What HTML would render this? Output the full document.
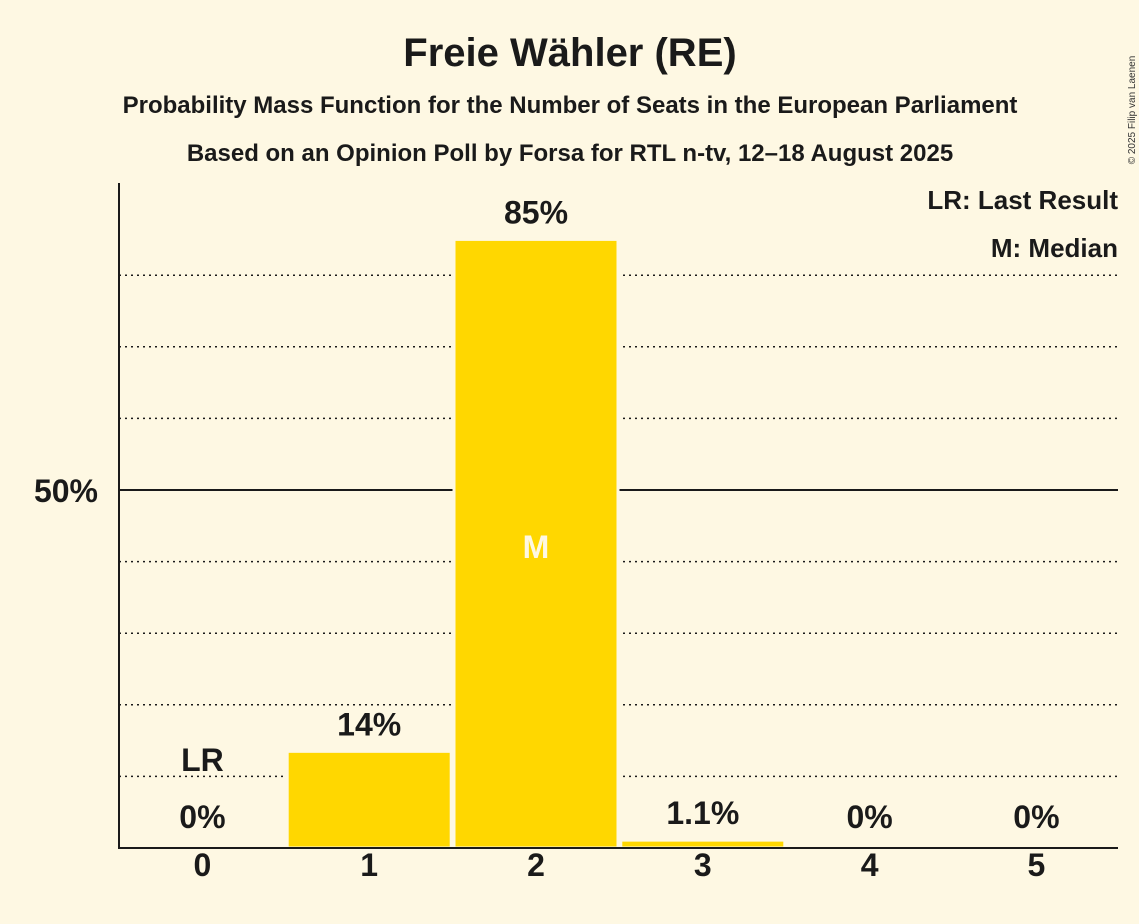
<!DOCTYPE html>
<html><head><meta charset="utf-8"><style>
body{margin:0;background:#fef8e3;}
svg{display:block;font-family:"Liberation Sans",sans-serif;font-weight:bold;}
</style></head><body>
<svg id="chart" width="1139" height="924" viewBox="0 0 1139 924">
<rect x="0" y="0" width="1139" height="924" fill="#fef8e3"/>
<text x="570" y="66" text-anchor="middle" font-size="40" fill="#1a1a1a">Freie Wähler (RE)</text>
<text x="570" y="113" text-anchor="middle" font-size="24" fill="#1a1a1a">Probability Mass Function for the Number of Seats in the European Parliament</text>
<text x="570" y="161" text-anchor="middle" font-size="24" fill="#1a1a1a">Based on an Opinion Poll by Forsa for RTL n-tv, 12–18 August 2025</text>
<text x="1135" y="110" font-size="10" font-weight="normal" fill="#333" transform="rotate(-90 1135 110)" text-anchor="middle">© 2025 Filip van Laenen</text>
<text x="1118" y="209" text-anchor="end" font-size="26" fill="#1a1a1a">LR: Last Result</text>
<text x="1118" y="257" text-anchor="end" font-size="26" fill="#1a1a1a">M: Median</text>
<g id="grid"></g>
<g id="bars"></g>
<g id="labels"></g>
<line x1="119" y1="183" x2="119" y2="849" stroke="#1a1a1a" stroke-width="2"/>
<line x1="118" y1="848" x2="1118" y2="848" stroke="#1a1a1a" stroke-width="2"/>
</svg>
<script>
const seats = [0, 1, 2, 3, 4, 5];
const probs = [0, 13.5, 85, 1.1, 0, 0];
const valueLabels = ["0%", "14%", "85%", "1.1%", "0%", "0%"];
const gridTicks = [10, 20, 30, 40, 50, 60, 70, 80];
const lastResult = 0;
const median = 2;

const NS = "http://www.w3.org/2000/svg";
const x0 = 119, baseY = 848, step = 166.8, barW = 164;
const yScale = v => baseY - v * 7.16;
const xCenter = s => x0 + step * (s + 0.5);
function mk(tag, attrs, parent, text) {
  const el = document.createElementNS(NS, tag);
  for (const k in attrs) el.setAttribute(k, attrs[k]);
  if (text !== undefined) el.textContent = text;
  parent.appendChild(el);
  return el;
}
const grid = document.getElementById('grid'), bars = document.getElementById('bars'), labels = document.getElementById('labels');
gridTicks.forEach(t => {
  const solid = t === 50;
  const l = mk('line', {x1: x0, x2: 1118, y1: yScale(t), y2: yScale(t), stroke: '#1a1a1a', 'stroke-width': solid ? 2 : 1.5, 'stroke-dasharray': solid ? '' : '2,4'}, grid);
  
  
});
const yl = mk('text', {x: 98, y: yScale(50) + 12, 'text-anchor': 'end', 'font-size': 32, fill: '#1a1a1a'}, labels, '50%');


seats.forEach((s, i) => {
  const cx = xCenter(s), v = probs[i];
  if (v > 0) {
    const r = mk('rect', {x: cx - barW / 2, y: yScale(v), width: barW, height: baseY - yScale(v), fill: '#ffd700', stroke: '#fef8e3', 'stroke-width': 3}, bars);
    
    
  }
  const ly = v > 0 ? yScale(v) - 16 : baseY - 20;
  const t = mk('text', {x: cx, y: ly, 'text-anchor': 'middle', 'font-size': 32, fill: '#1a1a1a'}, labels, valueLabels[i]);
  
  
  const tk = mk('text', {x: cx, y: 876, 'text-anchor': 'middle', 'font-size': 32, fill: '#1a1a1a'}, labels, String(s));
  
  
  if (s === lastResult) {
    const lr = mk('text', {x: cx, y: 771, 'text-anchor': 'middle', 'font-size': 32, fill: '#1a1a1a'}, labels, 'LR');
    
    
  }
  if (s === median) {
    const m = mk('text', {x: cx, y: 558, 'text-anchor': 'middle', 'font-size': 32, fill: '#fef8e3'}, labels, 'M');
    
    
  }
});
</script>
</body></html>
